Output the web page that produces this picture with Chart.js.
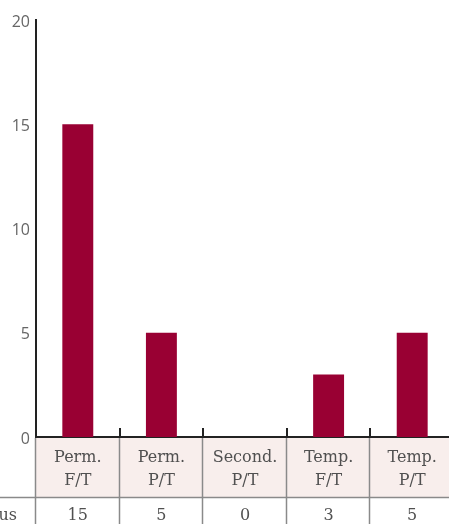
<!DOCTYPE html>
<html>
<head>
<meta charset="utf-8">
<script src="https://cdn.jsdelivr.net/npm/chart.js@4.4.0/dist/chart.umd.min.js"></script>
<style>
  html, body { margin: 0; padding: 0; overflow: hidden; background: #fff; }
  #wrap { width: 454px; height: 524px; position: relative; }
</style>
</head>
<body>
<div id="wrap"><canvas id="staffChart"></canvas></div>
<script>
// categories (two-line labels) and counts per category
const categories = [['Perm.', 'F/T'], ['Perm.', 'P/T'], ['Second.', 'P/T'], ['Temp.', 'F/T'], ['Temp.', 'P/T']];
const counts = [15, 5, 0, 3, 5];
const rowLabel = 'Status';
const yMax = 20;
const yStep = 5;

const barColor = '#990033';
const axisColor = '#222';
const cellFill = '#f8eeec';
const cellLine = '#8a8a8a';
const textColor = '#505050';

// draws the tick marks and the table under the x axis
const tablePlugin = {
    id: 'tableUnderAxis',
    afterDraw(chart) {
        const ctx = chart.ctx;
        const x = chart.scales.x;
        const area = chart.chartArea;
        const colW = x.width / categories.length;
        const axisY = area.bottom;
        const row1Top = axisY + 1;
        const row1Bottom = axisY + 60;
        const row2Bottom = chart.height;

        ctx.save();
        // header row background
        ctx.fillStyle = cellFill;
        ctx.fillRect(area.left, row1Top, area.right - area.left, row1Bottom - row1Top);

        // cell borders
        ctx.strokeStyle = cellLine;
        ctx.lineWidth = 1.5;
        ctx.beginPath();
        ctx.moveTo(0, row1Bottom + 0.5);
        ctx.lineTo(chart.width, row1Bottom + 0.5);
        for (let i = 0; i < categories.length; i++) {
            const bx = Math.round(area.left + colW * i) - 0.5;
            ctx.moveTo(bx, row1Top);
            ctx.lineTo(bx, row2Bottom);
        }
        ctx.stroke();

        // small tick marks between categories
        ctx.strokeStyle = axisColor;
        ctx.lineWidth = 2;
        ctx.beginPath();
        for (let i = 1; i < categories.length; i++) {
            const tx = Math.round(area.left + colW * i);
            ctx.moveTo(tx, axisY - 9);
            ctx.lineTo(tx, axisY);
        }
        ctx.stroke();

        // text
        ctx.fillStyle = textColor;
        ctx.font = '16px "DejaVu Serif"';
        ctx.textAlign = 'center';
        ctx.textBaseline = 'alphabetic';
        categories.forEach((lines, i) => {
            const cx = x.getPixelForValue(i);
            ctx.fillText(lines[0], cx, axisY + 25);
            ctx.fillText(lines[1], cx, axisY + 48);
            ctx.fillText(String(counts[i]), cx, row2Bottom - 4);
        });
        ctx.textAlign = 'right';
        ctx.fillText(rowLabel, 17, row2Bottom - 4);
        ctx.restore();
    }
};

const ctx = document.getElementById('staffChart').getContext('2d');
new Chart(ctx, {
    type: 'bar',
    data: {
        labels: categories,
        datasets: [{
            data: counts,
            backgroundColor: barColor,
            borderWidth: 0,
            categoryPercentage: 1,
            barPercentage: 0.37
        }]
    },
    options: {
        responsive: true,
        maintainAspectRatio: false,
        animation: false,
        layout: { padding: { top: 20, bottom: 87, left: 0, right: 0 } },
        plugins: {
            legend: { display: false },
            tooltip: { enabled: false }
        },
        scales: {
            x: {
                grid: { display: false, drawTicks: false },
                border: { display: true, color: axisColor, width: 2 },
                ticks: { display: false },
                afterFit(scale) { scale.height = 0; }
            },
            y: {
                min: 0,
                max: yMax,
                grid: { display: false, drawTicks: false },
                border: { display: true, color: axisColor, width: 2 },
                ticks: {
                    stepSize: yStep,
                    padding: 6,
                    labelOffset: 2,
                    color: '#666',
                    font: { family: '"Open Sans"', size: 16 }
                },
                afterFit(scale) { scale.width = 36; }
            }
        }
    },
    plugins: [tablePlugin]
});
</script>
</body>
</html>
